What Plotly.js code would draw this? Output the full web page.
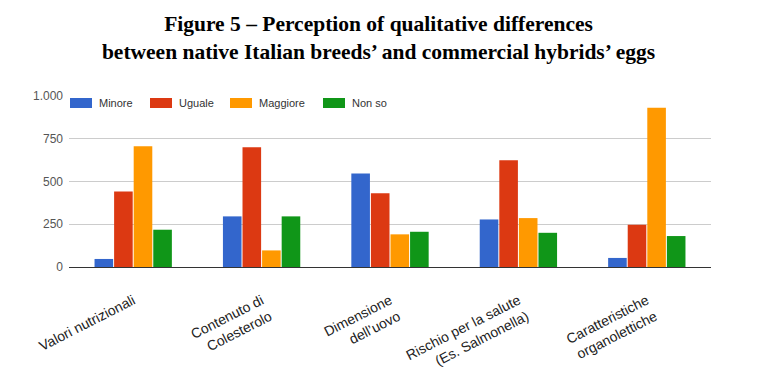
<!DOCTYPE html>
<html>
<head>
<meta charset="utf-8">
<script src="https://cdn.plot.ly/plotly-3.0.1.min.js"></script>
<style>html,body{margin:0;padding:0;background:#fff;}#chart{width:757px;height:385px;}</style>
</head>
<body>
<div id="chart"></div>
<script>
const categories = [
  "Valori nutrizionali",
  "Contenuto di<br>Colesterolo",
  "Dimensione<br>dell’uovo",
  "Rischio per la salute<br>(Es. Salmonella)",
  "Caratteristiche<br>organolettiche"
];
const seriesNames = ["Minore", "Uguale", "Maggiore", "Non so"];
const minore   = [47, 296, 547, 278, 53];
const uguale   = [441, 700, 432, 624, 247];
const maggiore = [706, 97, 191, 286, 932];
const nonSo    = [218, 296, 206, 200, 181];
const colors = ["#3366cc", "#dc3912", "#ff9900", "#109618"];
const yTicks = [0, 250, 500, 750, 1000];
const yTickText = ["0", "250", "500", "750", "1.000"];

const seriesValues = [minore, uguale, maggiore, nonSo];
const traces = seriesValues.map((vals, i) => ({
  type: "bar",
  name: seriesNames[i],
  x: categories,
  y: vals,
  marker: {color: colors[i], line: {width: 0}},
  hoverinfo: "x+y+name",
  showlegend: false
}));

// custom legend: swatches (pixel sized shapes) + annotations
const legendX = [1, 81, 161, 254];
const shapes = [];
const annotations = [];
seriesNames.forEach((n, i) => {
  shapes.push({
    type: "rect", xref: "paper", yref: "paper",
    xsizemode: "pixel", ysizemode: "pixel",
    xanchor: 0, yanchor: 1,
    x0: legendX[i], x1: legendX[i] + 22, y0: -2, y1: -12,
    fillcolor: colors[i], line: {width: 0}
  });
  annotations.push({
    xref: "paper", yref: "paper", x: 0, y: 1,
    xanchor: "left", yanchor: "middle",
    xshift: legendX[i] + 27, yshift: -7,
    text: n, showarrow: false,
    font: {family: "Liberation Sans, Arial, sans-serif", size: 11, color: "#333"}
  });
});

const layout = {
  width: 757, height: 385,
  margin: {l: 69, r: 46, t: 96, b: 118},
  paper_bgcolor: "#fff", plot_bgcolor: "#fff",
  separators: ",.",
  title: {
    text: "Figure 5 – Perception of qualitative differences<br>between native Italian breeds’ and commercial hybrids’ eggs",
    font: {family: "Liberation Serif, Times New Roman, serif", size: 21.5, color: "#000", weight: "bold"},
    x: 0.5, xanchor: "center", xref: "container",
    y: 0.92, yanchor: "top", yref: "container"
  },
  barmode: "group",
  bargap: 0.39,
  bargroupgap: 0.05,
  showlegend: false,
  xaxis: {
    type: "category",
    tickangle: -27,
    tickfont: {family: "Liberation Sans, Arial, sans-serif", size: 14, color: "#222"},
    ticklabelstandoff: 22,
    showgrid: false, showline: false, ticks: "",
    automargin: false
  },
  yaxis: {
    range: [0, 1000],
    tickvals: yTicks, ticktext: yTickText,
    tickfont: {family: "Liberation Sans, Arial, sans-serif", size: 12, color: "#555"},
    ticklabelstandoff: 5,
    showgrid: true, gridcolor: "#cccccc", gridwidth: 1,
    zeroline: true, zerolinecolor: "#333333", zerolinewidth: 1,
    showline: false, ticks: "",
    automargin: false
  },
  shapes: shapes,
  annotations: annotations
};

Plotly.newPlot("chart", traces, layout, {displayModeBar: false, responsive: false});
</script>
</body>
</html>
